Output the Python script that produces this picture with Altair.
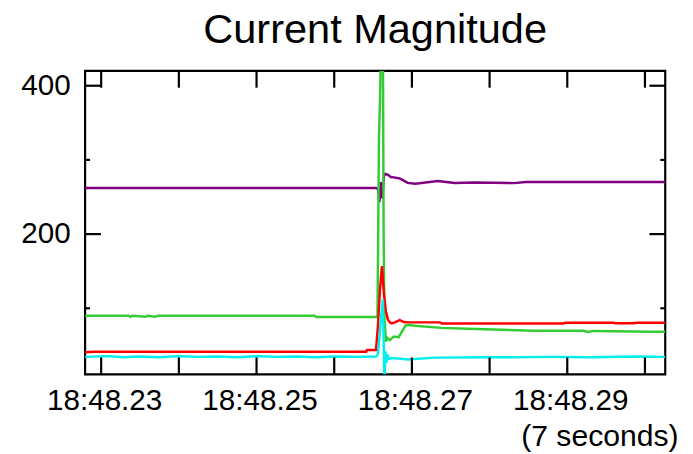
import altair as alt
import pandas as pd

# ---- data (time in fraction of the minute, value in A) ----
purple_t = [0.22793, 0.24243, 0.25515, 0.26538, 0.26563, 0.26582, 0.26601, 0.26620,
            0.26640, 0.26656, 0.26690, 0.26728, 0.26767, 0.26843, 0.26945, 0.27042,
            0.27335, 0.27551, 0.27806, 0.28314, 0.28467, 0.30261]
purple_v = [262, 262, 262, 262, 261, 243, 270, 248,
            278, 281, 280, 277, 276.5, 275, 269, 268,
            271.5, 269, 269.5, 268.7, 270.2, 270.2]

green_t = [0.22793, 0.23352, 0.23378, 0.23403, 0.23569, 0.23594, 0.23696, 0.23734,
           0.25744, 0.25769, 0.26538, 0.26557, 0.26576, 0.26589, 0.26601, 0.26627,
           0.26636, 0.26646, 0.26665, 0.26684, 0.26716, 0.26767, 0.26830, 0.26868,
           0.26919, 0.26970, 0.27042, 0.27373, 0.27933, 0.28569, 0.29205, 0.29268,
           0.29332, 0.30096, 0.30261]
green_v = [90, 90, 88.5, 90, 88.5, 90, 88.5, 90,
           90, 88.3, 88.3, 88.3, 330, 380, 450, 450,
           200, 90, 55, 60, 57, 62, 61, 68,
           77, 77.5, 76.5, 73.6, 71.7, 69.6, 69.6, 68,
           69.5, 68.5, 68.3]

red_t = [0.22793, 0.22907, 0.26410, 0.26423, 0.26538, 0.26563, 0.26589, 0.26614,
         0.26640, 0.26665, 0.26690, 0.26716, 0.26741, 0.26779, 0.26843, 0.26894,
         0.26945, 0.27360, 0.27386, 0.28950, 0.28976, 0.29587, 0.29625, 0.29841,
         0.29905, 0.30261]
red_v = [40.8, 41.5, 41.5, 43.8, 43.8, 77, 125, 157,
         120, 96, 85, 81, 79.5, 81, 84, 81.5,
         81, 81, 79.5, 79.5, 80.5, 80.5, 79.8, 79.8,
         80.5, 80.5]

cyan_t = [0.22793, 0.23098, 0.23289, 0.23480, 0.23734, 0.23989, 0.24243, 0.24497,
          0.24752, 0.25006, 0.25261, 0.25515, 0.25769, 0.26024, 0.26278, 0.26538,
          0.26563, 0.26601, 0.26627, 0.26646, 0.26659, 0.26671, 0.26684, 0.26703,
          0.26754, 0.26856, 0.26945, 0.27297, 0.28060, 0.28823, 0.29332, 0.29841,
          0.30261]
cyan_v = [34.5, 35.5, 34, 35, 34, 35.5, 34.5, 35,
          34, 35.5, 34.5, 35, 34, 35, 34.5, 35,
          38, 85, 112, 0, 42, 26, 38, 32,
          33, 32, 31, 33.5, 34, 34.5, 34, 35,
          34.5]

x_tick_values = [0.23, 0.24, 0.25, 0.26, 0.27, 0.28, 0.29, 0.30]
x_label_values = [0.23, 0.25, 0.27, 0.29]
y_major_ticks = [200, 400]
y_minor_ticks = [100, 300]

# ---- chart ----
W, H = 587, 307
FONT = "Liberation Sans"

x_scale = alt.Scale(domain=[0.22793, 0.30261], nice=False, zero=False)
y_scale = alt.Scale(domain=[11, 420], nice=False, zero=False)

x_axis = alt.Axis(values=x_label_values,
                  labelExpr="'18:48.' + substring(format(datum.value, '.2f'), 2)",
                  ticks=False, domain=False, grid=False,
                  labelFont=FONT, labelFontSize=30, labelColor="black",
                  labelPadding=12, labelFlush=False, labelOffset=3,
                  title="(7 seconds)", titleFont=FONT, titleFontSize=30.5,
                  titleFontWeight="normal", titleColor="black",
                  titleX=600, titleY=72, titleAlign="right",
                  titleBaseline="alphabetic", titleAngle=0)
y_axis = alt.Axis(values=y_major_ticks, ticks=False, domain=False, grid=False,
                  labelFont=FONT, labelFontSize=30, labelColor="black",
                  labelPadding=15, labelFlush=False, title=None)


def xenc(field="t"):
    return alt.X(f"{field}:Q", scale=x_scale, axis=x_axis)


def yenc(field="v"):
    return alt.Y(f"{field}:Q", scale=y_scale, axis=y_axis)


def line(t, v, color):
    return alt.Chart(pd.DataFrame({"t": t, "v": v})).mark_line(
        color=color, strokeWidth=2.5, clip=True
    ).encode(x=xenc(), y=yenc())


lines = [
    line(purple_t, purple_v, "#800080"),
    line(green_t, green_v, "#33cc33"),
    line(red_t, red_v, "#ff0000"),
    line(cyan_t, cyan_v, "#00eeee"),
]

xt = pd.DataFrame({"t": x_tick_values})
ymaj = pd.DataFrame({"v": y_major_ticks})
ymin = pd.DataFrame({"v": y_minor_ticks})

rule = dict(color="black", strokeWidth=2.2)
ticks = [
    alt.Chart(xt).mark_rule(**rule).encode(x=xenc(), y=alt.value(H), y2=alt.value(H - 17)),
    alt.Chart(xt).mark_rule(**rule).encode(x=xenc(), y=alt.value(0), y2=alt.value(17)),
    alt.Chart(ymaj).mark_rule(**rule).encode(y=yenc(), x=alt.value(0), x2=alt.value(16)),
    alt.Chart(ymaj).mark_rule(**rule).encode(y=yenc(), x=alt.value(W), x2=alt.value(W - 16)),
    alt.Chart(ymin).mark_rule(**rule).encode(y=yenc(), x=alt.value(0), x2=alt.value(5)),
    alt.Chart(ymin).mark_rule(**rule).encode(y=yenc(), x=alt.value(W), x2=alt.value(W - 5)),
]

chart = alt.layer(*lines, *ticks).properties(
    width=W, height=H,
    title=alt.TitleParams("Current Magnitude", font=FONT, fontSize=42,
                          fontWeight="normal", color="black", anchor="middle",
                          offset=18),
    padding={"left": 78, "top": 61, "right": 20, "bottom": 78},
    autosize=alt.AutoSizeParams(type="none"),
).configure_view(stroke="black", strokeWidth=2.2)

chart.save("out.html", embed_options={"renderer": "svg", "actions": False})
